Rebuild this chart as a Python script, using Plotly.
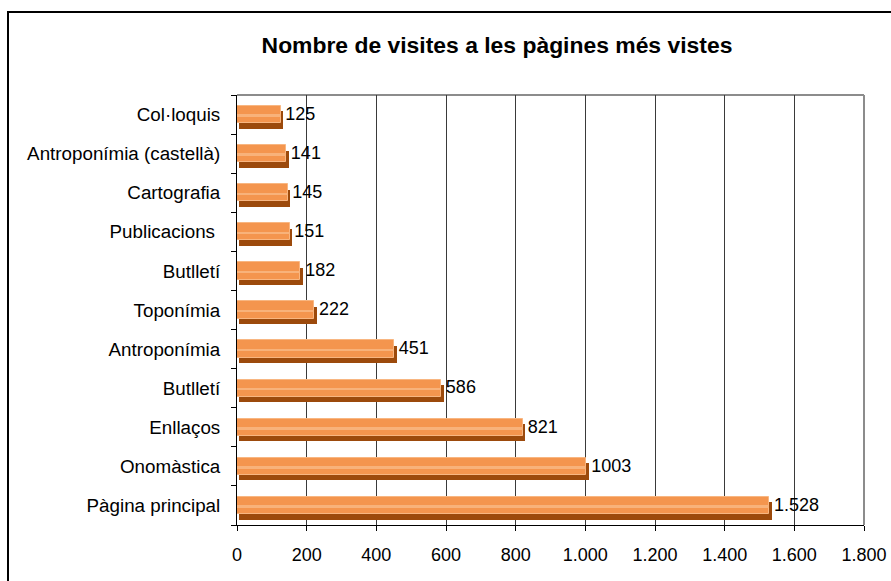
import plotly.graph_objects as go

categories = ["Pàgina principal", "Onomàstica", "Enllaços", "Butlletí", "Antroponímia",
              "Toponímia", "Butlletí", "Publicacions ", "Cartografia",
              "Antroponímia (castellà)", "Col·loquis"]
visits = [1528, 1003, 821, 586, 451, 222, 182, 151, 145, 141, 125]
value_labels = ["1.528", "1003", "821", "586", "451", "222", "182", "151", "145", "141", "125"]
x_tickvals = [0, 200, 400, 600, 800, 1000, 1200, 1400, 1600, 1800]
x_ticktext = ["0", "200", "400", "600", "800", "1.000", "1.200", "1.400", "1.600", "1.800"]
title = "Nombre de visites a les pàgines més vistes"

FONT = "Arial, 'Liberation Sans', sans-serif"
idx = list(range(len(categories)))
bar_w = 0.44
depth_y = 0.14
depth_x = 7

fig = go.Figure()
# depth / shadow
fig.add_trace(go.Bar(
    y=[i - depth_y for i in idx], x=visits, base=[depth_x] * len(idx), orientation="h",
    width=bar_w, marker=dict(color="#9C4A0C", line=dict(width=0)),
    hoverinfo="skip", showlegend=False))
# main bar
fig.add_trace(go.Bar(
    y=idx, x=visits, orientation="h", width=bar_w,
    marker=dict(color="#F4954E", line=dict(color="#F8B681", width=1)),
    showlegend=False))
# highlight stripe
fig.add_trace(go.Bar(
    y=[i - 0.02 for i in idx], x=visits, orientation="h", width=0.05,
    marker=dict(color="#F8B27A", line=dict(width=0)),
    hoverinfo="skip", showlegend=False))
# value labels
fig.add_trace(go.Scatter(
    y=[i - 0.02 for i in idx], x=visits, mode="markers+text", text=value_labels,
    textposition="middle right",
    marker=dict(size=6, color="rgba(0,0,0,0)"),
    textfont=dict(family=FONT, size=18, color="black"), cliponaxis=False,
    hoverinfo="skip", showlegend=False))

fig.update_layout(
    width=891, height=581,
    margin=dict(l=237, r=27, t=95, b=56, autoexpand=False),
    paper_bgcolor="white", plot_bgcolor="white",
    barmode="overlay", bargap=0,
    font=dict(family=FONT, size=18, color="black"),
    title=dict(text="<b>" + title + "</b>", x=497 / 891, xanchor="center",
               y=1 - 45 / 581, yanchor="middle",
               font=dict(family=FONT, size=22.9, color="black")),
    xaxis=dict(range=[0, 1800], tickvals=x_tickvals, ticktext=x_ticktext,
               showgrid=True, gridcolor="#3a3a3a", gridwidth=1,
               showline=True, linecolor="black", linewidth=1,
               ticks="outside", ticklen=5, tickcolor="black",
               ticklabelstandoff=8, zeroline=False, automargin=False,
               tickfont=dict(family=FONT, size=18, color="black")),
    yaxis=dict(range=[-0.5, len(idx) - 0.5], tickvals=idx, ticktext=categories,
               showgrid=False, showline=True, linecolor="black", linewidth=1,
               ticks="", ticklabelstandoff=12, zeroline=False, automargin=False,
               minor=dict(ticks="outside", ticklen=5, tickcolor="black",
                          tick0=0.5, dtick=1, showgrid=False),
               tickfont=dict(family=FONT, size=18.8, color="black")),
    shapes=[
        dict(type="line", xref="paper", yref="paper", x0=0, x1=1, y0=1, y1=1,
             line=dict(color="#8c8c8c", width=2), layer="below"),
        dict(type="line", xref="paper", yref="paper", x0=1, x1=1, y0=0, y1=1,
             line=dict(color="#8c8c8c", width=2), layer="below"),
        dict(type="rect", xref="paper", yref="paper",
             x0=(8 - 237) / 627, x1=1.2, y0=-0.3, y1=(525 - 12) / 430,
             line=dict(color="black", width=2), fillcolor="rgba(0,0,0,0)", layer="above"),
    ],
)

fig.write_html("out.html", config={"displayModeBar": False},
               post_script="document.body.style.margin='0';")
